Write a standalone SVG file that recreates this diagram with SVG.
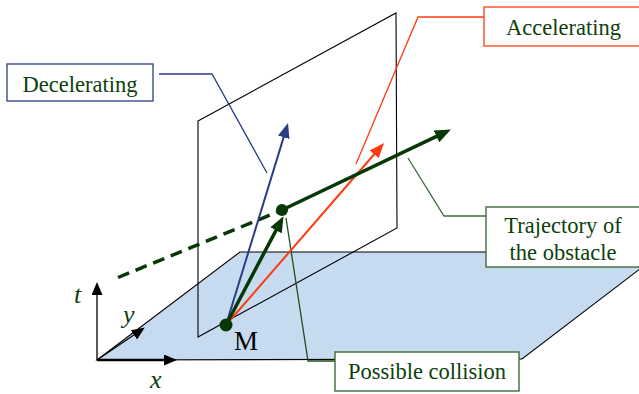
<svg xmlns="http://www.w3.org/2000/svg" width="639" height="394" viewBox="0 0 639 394">
<defs>
<style>
.lbl{font-size:22.5px;fill:#0d3f0d;text-anchor:middle}
.ax{font-size:26px;font-style:italic;fill:#0d3f0d}
.box{fill:#ffffff;stroke-width:1.4}
.edge{fill:none;stroke:#000;stroke-width:1.1}
</style>
<marker id="ahG" markerUnits="userSpaceOnUse" markerWidth="16" markerHeight="13" refX="7" refY="6.5" orient="auto"><path d="M0,0 L16,6.5 L0,13 z" fill="#063806"/></marker>
<marker id="ahB" markerUnits="userSpaceOnUse" markerWidth="15" markerHeight="12" refX="7" refY="6" orient="auto"><path d="M0,0 L15,6 L0,12 z" fill="#2b3c87"/></marker>
<marker id="ahR" markerUnits="userSpaceOnUse" markerWidth="15" markerHeight="12" refX="7" refY="6" orient="auto"><path d="M0,0 L15,6 L0,12 z" fill="#ff3a10"/></marker>
<marker id="ahK" markerUnits="userSpaceOnUse" markerWidth="13" markerHeight="11" refX="6" refY="5.5" orient="auto"><path d="M0,0 L13,5.5 L0,11 z" fill="#000"/></marker>
</defs>

<g id="ground-plane">
<polygon points="97,360 240,252 662,252 522,359" fill="#c6dbef" stroke="#000" stroke-width="1.1"/>
</g>
<g id="vertical-plane">
<polygon class="edge" points="198,121 396,13 397,228 198,337"/>
</g>
<g id="axes" font-family="'Liberation Serif', serif">
<line x1="97" y1="360" x2="97" y2="289" stroke="#000" stroke-width="1.3" marker-end="url(#ahK)"/>
<line x1="97" y1="360" x2="170" y2="360" stroke="#000" stroke-width="2.6" marker-end="url(#ahK)"/>
<line x1="97" y1="360" x2="139" y2="331.5" stroke="#000" stroke-width="1.2" marker-end="url(#ahK)"/>
<text class="ax" x="74" y="303">t</text>
<text class="ax" x="123" y="323">y</text>
<text class="ax" x="150" y="388">x</text>
</g>

<g id="connectors">
<polyline points="159,74 212,74 267,173" fill="none" stroke="#2b3c87" stroke-width="1.3"/>
<polyline points="484,17 418,17 356,164" fill="none" stroke="#ff3a10" stroke-width="1.3"/>
<polyline points="486,216 444,216 408,158" fill="none" stroke="#3d6b3d" stroke-width="1.3"/>
<polyline points="335,361 308,361 286,218" fill="none" stroke="#1d4f1d" stroke-width="1.3"/>
<line x1="118" y1="277.5" x2="280" y2="211" stroke="#063806" stroke-width="3.5" stroke-dasharray="12 7"/>
<line x1="226" y1="325" x2="285.7" y2="130.6" stroke="#2b3c87" stroke-width="2" marker-end="url(#ahB)"/>
<line x1="226" y1="325" x2="378.8" y2="149" stroke="#ff3a10" stroke-width="2" marker-end="url(#ahR)"/>
<line x1="226" y1="325" x2="279.3" y2="224.1" stroke="#063806" stroke-width="3.5" marker-end="url(#ahG)"/>
<line x1="282" y1="210" x2="442.8" y2="133.4" stroke="#063806" stroke-width="3.5" marker-end="url(#ahG)"/>
</g>

<g id="point-M" font-family="'Liberation Serif', serif">
<circle cx="226" cy="325" r="6.5" fill="#063806"/>
<text x="234" y="350" font-size="27" fill="#000">M</text>
</g>
<g id="point-collision">
<circle cx="282" cy="210" r="6" fill="#063806"/>
</g>

<g id="node-decelerating" font-family="'Liberation Serif', serif">
<rect class="box" x="7" y="64" width="146" height="37" stroke="#3a4a8a"/>
<text class="lbl" x="80" y="92">Decelerating</text>
</g>
<g id="node-accelerating" font-family="'Liberation Serif', serif">
<rect class="box" x="484" y="7" width="170" height="39" stroke="#ff4a25"/>
<text class="lbl" x="563.5" y="35">Accelerating</text>
</g>
<g id="node-trajectory" font-family="'Liberation Serif', serif">
<rect class="box" x="486" y="207" width="170" height="60" stroke="#3d6b3d"/>
<text class="lbl" x="563" y="233">Trajectory of</text>
<text class="lbl" x="563" y="260">the obstacle</text>
</g>
<g id="node-collision" font-family="'Liberation Serif', serif">
<rect class="box" x="335" y="352" width="184" height="39" stroke="#3d6b3d"/>
<text class="lbl" x="427" y="379">Possible collision</text>
</g>
</svg>
